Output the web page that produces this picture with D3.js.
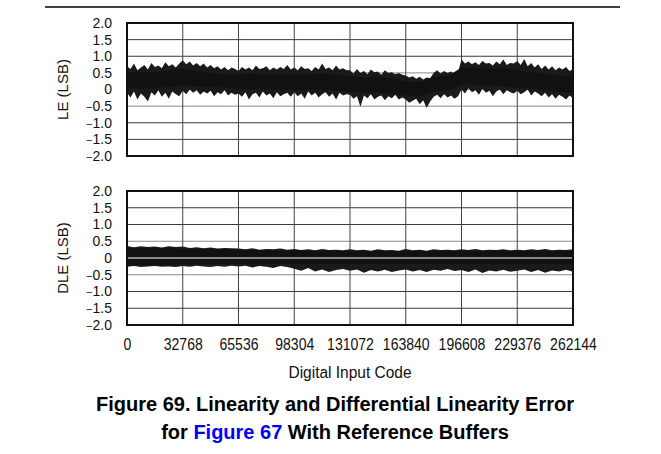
<!DOCTYPE html>
<html>
<head>
<meta charset="utf-8">
<script src="https://cdn.jsdelivr.net/npm/d3@7"></script>
<style>
  body { margin: 0; background: #fff; }
  text { font-family: "Liberation Sans", Arial, sans-serif; }
</style>
</head>
<body>
<div id="chart"></div>
<script>
// x ticks (digital input code)
var codeTicks = [0, 32768, 65536, 98304, 131072, 163840, 196608, 229376, 262144];
var yTicks = [2.0, 1.5, 1.0, 0.5, 0, -0.5, -1.0, -1.5, -2.0];

// LE peak envelope, one value every 2048 codes
var leMax = [
  0.70,0.62,0.78,0.58,0.66,0.74,0.60,0.80,0.68,0.72,0.64,0.82,0.70,0.76,0.66,0.78,
  0.88,0.76,0.84,0.72,0.80,0.70,0.78,0.66,0.74,0.64,0.70,0.60,0.68,0.58,0.66,0.62,
  0.56,0.68,0.60,0.66,0.58,0.72,0.62,0.64,0.70,0.58,0.66,0.60,0.68,0.62,0.74,0.60,
  0.66,0.58,0.70,0.62,0.64,0.56,0.68,0.60,0.78,0.62,0.66,0.58,0.72,0.60,0.64,0.58,
  0.58,0.48,0.62,0.50,0.56,0.46,0.60,0.52,0.54,0.44,0.58,0.50,0.52,0.46,0.50,0.44,
  0.42,0.36,0.40,0.32,0.38,0.30,0.36,0.34,0.50,0.58,0.48,0.56,0.50,0.54,0.46,0.52,
  0.90,0.78,0.84,0.76,0.82,0.74,0.86,0.78,0.80,0.72,0.84,0.76,0.90,0.74,0.80,0.78,
  0.86,0.74,0.92,0.70,0.80,0.66,0.76,0.62,0.72,0.60,0.70,0.58,0.66,0.60,0.68,0.56,0.62
];
var leMin = [
  -0.10,-0.24,-0.06,-0.30,-0.12,-0.22,-0.36,-0.08,-0.18,-0.02,-0.22,-0.10,-0.28,-0.06,-0.14,-0.20,
  -0.04,-0.14,0.00,-0.10,-0.02,-0.16,-0.06,-0.12,-0.04,-0.20,-0.08,-0.14,-0.02,-0.18,-0.10,-0.16,
  -0.12,-0.22,-0.08,-0.30,-0.14,-0.10,-0.24,-0.06,-0.18,-0.12,-0.26,-0.08,-0.20,-0.14,-0.10,-0.22,
  -0.08,-0.20,-0.12,-0.28,-0.06,-0.18,-0.10,-0.24,-0.14,-0.08,-0.22,-0.12,-0.30,-0.10,-0.18,-0.14,
  -0.16,-0.28,-0.20,-0.52,-0.18,-0.26,-0.14,-0.30,-0.22,-0.18,-0.32,-0.20,-0.26,-0.16,-0.30,-0.24,
  -0.30,-0.40,-0.34,-0.28,-0.44,-0.32,-0.56,-0.36,-0.22,-0.16,-0.26,-0.14,-0.24,-0.18,-0.28,-0.20,
  0.00,-0.12,0.04,-0.08,-0.02,-0.16,0.02,-0.10,-0.04,-0.20,-0.06,0.00,-0.14,-0.02,-0.08,-0.12,
  -0.04,-0.14,-0.08,0.00,-0.18,-0.06,-0.12,-0.20,-0.10,-0.24,-0.14,-0.28,-0.16,-0.22,-0.30,-0.18,-0.26
];
// LE dense band, one value every 8192 codes
var leHi = [0.50,0.54,0.52,0.56, 0.64,0.56,0.50,0.46, 0.46,0.48,0.44,0.46, 0.46,0.44,0.48,0.44,
  0.40,0.36,0.38,0.34, 0.24,0.22,0.38,0.40, 0.66,0.64,0.62,0.64, 0.58,0.52,0.46,0.42,0.42];
var leLo = [0.06,0.02,0.04,0.08, 0.12,0.10,0.08,0.06, 0.02,0.00,0.02,-0.02, 0.00,-0.02,0.00,-0.04,
  -0.08,-0.10,-0.08,-0.12, -0.18,-0.20,-0.06,-0.04, 0.16,0.14,0.12,0.10, 0.06,0.02,-0.02,-0.08,-0.08];

// DLE peak envelope, one value every 4096 codes
var dleMax = [
  0.36,0.32,0.35,0.33,0.34,0.31,0.35,0.33, 0.34,0.30,0.32,0.29,0.31,0.28,0.30,0.29,
  0.28,0.26,0.29,0.25,0.27,0.26,0.28,0.25, 0.27,0.24,0.26,0.23,0.27,0.24,0.25,0.23,
  0.26,0.23,0.25,0.22,0.26,0.23,0.24,0.22, 0.27,0.23,0.25,0.22,0.26,0.24,0.25,0.23,
  0.26,0.24,0.27,0.23,0.25,0.24,0.26,0.23, 0.25,0.23,0.26,0.24,0.27,0.23,0.25,0.24,0.26
];
var dleMin = [
  -0.26,-0.24,-0.27,-0.25,-0.24,-0.26,-0.25,-0.27, -0.24,-0.26,-0.23,-0.25,-0.27,-0.24,-0.26,-0.23,
  -0.25,-0.23,-0.28,-0.24,-0.26,-0.30,-0.24,-0.27, -0.32,-0.38,-0.30,-0.40,-0.34,-0.42,-0.36,-0.33,
  -0.38,-0.34,-0.44,-0.36,-0.40,-0.35,-0.42,-0.37, -0.34,-0.40,-0.36,-0.42,-0.35,-0.38,-0.33,-0.39,
  -0.36,-0.42,-0.34,-0.45,-0.37,-0.40,-0.35,-0.41, -0.38,-0.34,-0.42,-0.36,-0.44,-0.37,-0.40,-0.35,-0.41
];
// DLE dense band, one value every 8192 codes
var dleHi = [0.30,0.30,0.29,0.28, 0.27,0.26,0.26,0.25, 0.24,0.23,0.23,0.22, 0.22,0.21,0.21,0.21,
  0.20,0.20,0.20,0.20, 0.20,0.20,0.20,0.20, 0.20,0.20,0.20,0.20, 0.20,0.20,0.20,0.20,0.20];
var dleLo = [-0.21,-0.21,-0.20,-0.20, -0.19,-0.19,-0.18,-0.18, -0.18,-0.17,-0.17,-0.17, -0.17,-0.17,-0.17,-0.17,
  -0.17,-0.17,-0.17,-0.17, -0.17,-0.17,-0.17,-0.17, -0.17,-0.17,-0.17,-0.17, -0.17,-0.17,-0.17,-0.17,-0.17];

var W = 661, H = 454;
var svg = d3.select("#chart").append("svg")
  .attr("width", W).attr("height", H);

// top rule
svg.append("line")
  .attr("x1", 45).attr("x2", 620).attr("y1", 7).attr("y2", 7)
  .attr("stroke", "#000").attr("stroke-width", 1.5);

var x = d3.scaleLinear().domain([0, 262144]).range([127, 573]);

function panel(top, bottom, label, pkMax, pkMin, step, hi, lo, zeroOnTop) {
  var y = d3.scaleLinear().domain([-2, 2]).range([bottom, top]);
  var g = svg.append("g");

  // grid
  g.selectAll(".hg").data(yTicks.slice(1, -1)).enter().append("line")
    .attr("x1", x(0)).attr("x2", x(262144))
    .attr("y1", d => y(d)).attr("y2", d => y(d))
    .attr("stroke", d => d === 0 ? "#9a9a9a" : Math.abs(d) === 0.5 ? "#8a8a8a" : "#3a3a3a")
    .attr("stroke-width", 1);
  g.selectAll(".vg").data(codeTicks.slice(1, -1)).enter().append("line")
    .attr("x1", d => x(d)).attr("x2", d => x(d))
    .attr("y1", top).attr("y2", bottom)
    .attr("stroke", "#4a3f44").attr("stroke-width", 1);

  // peak envelope
  var pk = pkMax.map((v, i) => ({c: i * step, hi: v, lo: pkMin[i]}));
  g.append("path").datum(pk)
    .attr("d", d3.area().x(d => x(d.c)).y0(d => y(d.lo)).y1(d => y(d.hi)))
    .attr("fill", "#1a1a1a");

  // dense band
  var band = hi.map((v, i) => ({c: i * 8192, hi: v, lo: lo[i]}));
  g.append("path").datum(band)
    .attr("d", d3.area().x(d => x(d.c)).y0(d => y(d.lo)).y1(d => y(d.hi)))
    .attr("fill", "#111");

  if (zeroOnTop) {
    g.append("line")
      .attr("x1", x(0)).attr("x2", x(262144))
      .attr("y1", y(0)).attr("y2", y(0))
      .attr("stroke", "#b0b0b0").attr("stroke-width", 1.5);
  }

  // frame
  g.append("rect")
    .attr("x", x(0)).attr("y", top)
    .attr("width", x(262144) - x(0)).attr("height", bottom - top)
    .attr("fill", "none").attr("stroke", "#111").attr("stroke-width", 2);

  // y tick labels
  var ax = g.append("g")
    .attr("transform", "translate(" + (x(0) - 15) + ",0)")
    .call(d3.axisLeft(y).tickValues(yTicks).tickFormat(d => "").tickSize(0).tickPadding(0));
  ax.select(".domain").remove();
  ax.selectAll(".tick text").each(function(d) {
    var t = d3.select(this)
      .attr("font-size", 14).attr("fill", "#111")
      .style("font-family", "'Liberation Sans', Arial, sans-serif");
    if (d < 0) {
      t.append("tspan").attr("font-size", 11).text("\u2212");
      t.append("tspan").text(Math.abs(d).toFixed(1));
    } else {
      t.text(d === 0 ? "0" : d.toFixed(1));
    }
  });

  g.append("text")
    .attr("transform", "translate(68," + ((top + bottom) / 2) + ") rotate(-90)")
    .attr("text-anchor", "middle")
    .attr("font-size", 15).attr("fill", "#111")
    .text(label);
  return y;
}

panel(23, 156, "LE (LSB)", leMax, leMin, 2048, leHi, leLo, false);
panel(191, 325, "DLE (LSB)", dleMax, dleMin, 4096, dleHi, dleLo, true);

// x tick labels
var xa = svg.append("g")
  .attr("transform", "translate(0,339)")
  .call(d3.axisBottom(x).tickValues(codeTicks).tickFormat(d3.format("d")).tickSize(0).tickPadding(0));
xa.select(".domain").remove();
xa.selectAll("text")
  .attr("font-size", 16).attr("fill", "#111")
  .attr("textLength", d => String(d).length * 7.8)
  .attr("lengthAdjust", "spacingAndGlyphs")
  .style("font-family", "'Liberation Sans', Arial, sans-serif");

svg.append("text")
  .attr("x", x(131072)).attr("y", 378)
  .attr("text-anchor", "middle").attr("font-size", 16).attr("fill", "#111")
  .attr("textLength", 123).attr("lengthAdjust", "spacingAndGlyphs")
  .text("Digital Input Code");

// caption
svg.append("text")
  .attr("x", 335).attr("y", 411)
  .attr("text-anchor", "middle").attr("font-size", 20).attr("font-weight", "bold")
  .attr("fill", "#000")
  .text("Figure 69. Linearity and Differential Linearity Error");
var cap2 = svg.append("text")
  .attr("x", 335).attr("y", 439)
  .attr("text-anchor", "middle").attr("font-size", 20).attr("font-weight", "bold")
  .attr("fill", "#000");
cap2.append("tspan").text("for ");
cap2.append("tspan").attr("fill", "#0000ff").text("Figure 67");
cap2.append("tspan").text(" With Reference Buffers");
</script>
</body>
</html>
